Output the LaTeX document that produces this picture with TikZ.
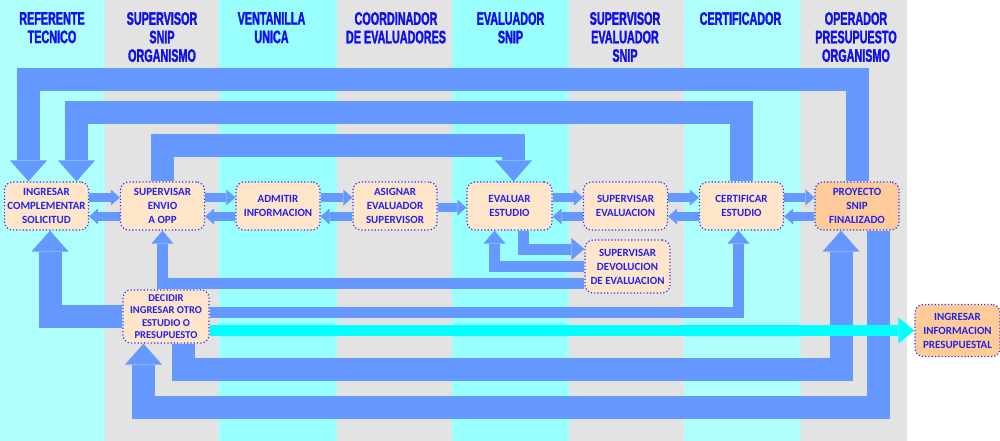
\documentclass[tikz,border=0pt]{standalone}
\usepackage{fontspec}
\setmainfont{Carlito}
\newfontfamily\lanefont[FakeStretch=0.6,FakeBold=1.6]{Liberation Sans}
\usetikzlibrary{arrows.meta,backgrounds}

\definecolor{lanelight}{HTML}{B0FFFF}
\definecolor{lanecyan}{HTML}{99FFFF}
\definecolor{lanegrey}{HTML}{E3E3E3}
\definecolor{headblue}{HTML}{1010EE}
\definecolor{textblue}{HTML}{2222EE}
\definecolor{dotblue}{HTML}{3030FF}
\definecolor{boxfill}{HTML}{FFE5CA}
\definecolor{boxorange}{HTML}{FFCC99}
\definecolor{arrowblue}{HTML}{6699FF}
\definecolor{arrowcyan}{HTML}{00FFFF}

\begin{document}
\begin{tikzpicture}[x=1pt, y=-1pt, line join=miter,
  lane/.style={anchor=north, inner sep=0pt, align=center, text=headblue,
    font=\lanefont\bfseries\fontsize{18}{18.5}\selectfont},
  box/.style={rectangle, rounded corners=8pt, draw=dotblue, line width=1.2pt,
    dash pattern=on 1.2pt off 2.1pt, fill=boxfill, text=textblue, align=center,
    font=\bfseries\fontsize{11}{14}\selectfont, inner sep=0pt,
    minimum width=84pt, minimum height=48pt},
  bigarrow/.style={draw=arrowblue, line width=23pt,
    -{Triangle[width=37pt, length=21pt, line width=0pt]}},
  midarrow/.style={draw=arrowblue, line width=11pt,
    -{Triangle[width=22pt, length=13pt, line width=0pt]}},
  smallarrow/.style={draw=arrowblue, line width=9pt,
    -{Triangle[width=16pt, length=9pt, line width=0pt]}},
  cyanarrow/.style={draw=arrowcyan, line width=11.5pt,
    -{Triangle[width=26pt, length=16pt, line width=0pt]}}]
  \useasboundingbox (0,0) rectangle (1000,441);

  % lane headers
  \node[lane] (referente) at (52,12) {REFERENTE\\TECNICO};
  \node[lane] (supsnip) at (162,12) {SUPERVISOR\\SNIP\\ORGANISMO};
  \node[lane] (ventanilla) at (271.5,12) {VENTANILLA\\UNICA};
  \node[lane] (coordinador) at (396,12) {COORDINADOR\\DE EVALUADORES};
  \node[lane] (evaluador) at (510.5,12) {EVALUADOR\\SNIP};
  \node[lane] (supevaluador) at (625,12) {SUPERVISOR\\EVALUADOR\\SNIP};
  \node[lane] (certificador) at (740.5,12) {CERTIFICADOR};
  \node[lane] (operador) at (856,12) {OPERADOR\\PRESUPUESTO\\ORGANISMO};

  % steps
  \node[box] (ingresar) at (46.5,206) {INGRESAR\\COMPLEMENTAR\\SOLICITUD};
  \node[box] (envio) at (162.5,206) {SUPERVISAR\\ENVIO\\A OPP};
  \node[box] (admitir) at (278,206) {ADMITIR\\INFORMACION};
  \node[box] (asignar) at (395,206) {ASIGNAR\\EVALUADOR\\SUPERVISOR};
  \node[box, minimum width=85pt] (evaluar) at (509.5,206) {EVALUAR\\ESTUDIO};
  \node[box] (supeval) at (625.5,206) {SUPERVISAR\\EVALUACION};
  \node[box] (certificar) at (741.5,206) {CERTIFICAR\\ESTUDIO};
  \node[box, fill=boxorange] (proyecto) at (857,206) {PROYECTO\\SNIP\\FINALIZADO};
  \node[box, minimum width=85pt, minimum height=53pt] (devolucion) at (627.5,266.5) {SUPERVISAR\\DEVOLUCION\\DE EVALUACION};
  \node[box, minimum width=86pt, minimum height=53pt,
    font=\bfseries\fontsize{10.5}{12.6}\selectfont] (decidir) at (166,316.5) {DECIDIR\\INGRESAR OTRO\\ESTUDIO O\\PRESUPUESTO};
  \node[box, fill=boxorange, minimum width=85pt, minimum height=52pt] (presupuestal) at (957.5,330.5) {INGRESAR\\INFORMACION\\PRESUPUESTAL};

  \begin{scope}[on background layer]
    \fill[lanelight] (0,0) rectangle (105,441);
    \fill[lanegrey] (105,0) rectangle (219,441);
    \fill[lanecyan] (219,0) rectangle (337,441);
    \fill[lanegrey] (337,0) rectangle (452,441);
    \fill[lanecyan] (452,0) rectangle (569,441);
    \fill[lanegrey] (569,0) rectangle (684,441);
    \fill[lanelight] (684,0) rectangle (801,441);
    \fill[lanegrey] (801,0) rectangle (907,441);

    % returns over the top
    \draw[bigarrow] (proyecto.north) -- ++(0,-101.5) -| ([xshift=-18pt]ingresar.north);
    \draw[bigarrow] (certificar.north) -- ++(0,-69) -| ([xshift=30pt]ingresar.north);
    \draw[bigarrow] (envio.north) -- ++(0,-35.5) -| ([xshift=4pt]evaluar.north);

    % main row
    \draw[smallarrow] ([yshift=8.5pt]ingresar.east) -- ([yshift=8.5pt]envio.west);
    \draw[smallarrow] ([yshift=-10.5pt]envio.west) -- ([yshift=-10.5pt]ingresar.east);
    \draw[smallarrow] ([yshift=8.5pt]envio.east) -- ([yshift=8.5pt]admitir.west);
    \draw[smallarrow] ([yshift=-10.5pt]admitir.west) -- ([yshift=-10.5pt]envio.east);
    \draw[smallarrow] ([yshift=8.5pt]admitir.east) -- ([yshift=8.5pt]asignar.west);
    \draw[smallarrow] ([yshift=-10.5pt]asignar.west) -- ([yshift=-10.5pt]admitir.east);
    \draw[smallarrow] ([yshift=-1.5pt]asignar.east) -- ([yshift=-1.5pt]evaluar.west);
    \draw[smallarrow] ([yshift=8.5pt]evaluar.east) -- ([yshift=8.5pt]supeval.west);
    \draw[smallarrow] ([yshift=-10.5pt]supeval.west) -- ([yshift=-10.5pt]evaluar.east);
    \draw[smallarrow] ([yshift=8.5pt]supeval.east) -- ([yshift=8.5pt]certificar.west);
    \draw[smallarrow] ([yshift=-10.5pt]certificar.west) -- ([yshift=-10.5pt]supeval.east);
    \draw[smallarrow] ([yshift=8.5pt]certificar.east) -- ([yshift=8.5pt]proyecto.west);
    \draw[smallarrow] ([yshift=-10.5pt]proyecto.west) -- ([yshift=-10.5pt]certificar.east);

    % devolution
    \draw[midarrow] ([xshift=14pt]evaluar.south) |- ([yshift=17.5pt]devolucion.west);
    \draw[midarrow] (devolucion.west) -| ([xshift=-15pt]evaluar.south);
    \draw[midarrow] ([yshift=-17pt]devolucion.west) -| (envio.south);

    % decision
    \draw[bigarrow] (decidir.west) -| ([xshift=3.5pt]ingresar.south);
    \draw[midarrow] ([yshift=4pt]decidir.east) -| ([xshift=-3pt]certificar.south);
    \draw[bigarrow] ([xshift=17.5pt]decidir.south) -- ++(0,25.5) -| ([xshift=-16pt]proyecto.south);
    \draw[bigarrow] ([xshift=21pt]proyecto.south) -- ++(0,177) -| ([xshift=-22.5pt]decidir.south);
    \draw[cyanarrow] ([yshift=-14pt]decidir.east) -- (presupuestal.west);
  \end{scope}
\end{tikzpicture}
\end{document}
